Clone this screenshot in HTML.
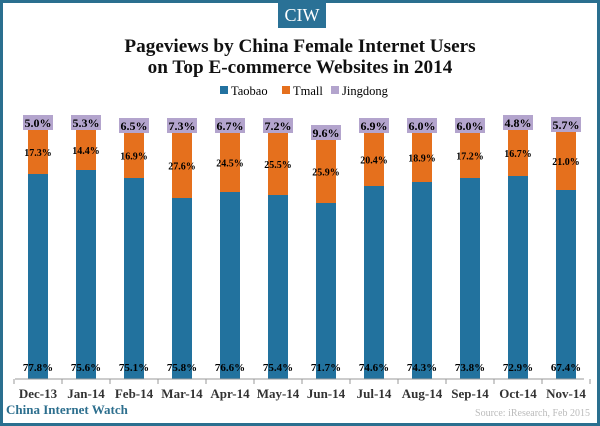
<!DOCTYPE html>
<html><head><meta charset="utf-8"><style>
body{margin:0;width:600px;height:426px;overflow:hidden;background:#fff}
svg{display:block}
</style></head><body>
<svg width="600" height="426" xmlns="http://www.w3.org/2000/svg" font-family="Liberation Serif, serif">
<rect x="1.5" y="1.5" width="597" height="423" fill="#fff" stroke="#2a6f8f" stroke-width="3"/>
<rect x="278" y="0" width="48" height="28" fill="#2a7196"/>
<text x="302" y="21" fill="#fff" font-size="18" text-anchor="middle">CIW</text>
<text x="300" y="52" font-size="19.2" font-weight="bold" text-anchor="middle" fill="#111">Pageviews by China Female Internet Users</text>
<text x="300" y="73" font-size="19.2" font-weight="bold" text-anchor="middle" fill="#111">on Top E-commerce Websites in 2014</text>
<rect x="220" y="86" width="8" height="8" fill="#2372a0"/><text x="231" y="95" font-size="12.5">Taobao</text>
<rect x="282" y="86" width="8" height="8" fill="#e5701d"/><text x="293" y="95" font-size="12.5">Tmall</text>
<rect x="331" y="86" width="8" height="8" fill="#b3a4cd"/><text x="342" y="95" font-size="12.5">Jingdong</text>
<g id="bars" font-size="10" font-weight="bold" text-anchor="middle"></g>
<line x1="15" y1="379" x2="584" y2="379" stroke="#999"/>
<g id="ax" font-size="13" font-weight="bold" text-anchor="middle" fill="#333"></g>
<text x="6" y="414" font-size="13" font-weight="bold" fill="#2d6f8e">China Internet Watch</text>
<text x="590" y="416" font-size="10" fill="#bbb" text-anchor="end">Source: iResearch,  Feb 2015</text>
</svg>
<script>
var L=["Dec-13","Jan-14","Feb-14","Mar-14","Apr-14","May-14","Jun-14","Jul-14","Aug-14","Sep-14","Oct-14","Nov-14"];
var T=["77.8%","75.6%","75.1%","75.8%","76.6%","75.4%","71.7%","74.6%","74.3%","73.8%","72.9%","67.4%"];
var M=["17.3%","14.4%","16.9%","27.6%","24.5%","25.5%","25.9%","20.4%","18.9%","17.2%","16.7%","21.0%"];
var J=["5.0%","5.3%","6.5%","7.3%","6.7%","7.2%","9.6%","6.9%","6.0%","6.0%","4.8%","5.7%"];
var tb=[174,170,178,198,192,195,203,186,182,178,176,190];
var ot=[130,130,133,133,133,133,140,133,133,133,130,132];
var g=document.getElementById("bars"),a=document.getElementById("ax"),s="",t="";
for(var i=0;i<12;i++){var c=38+48*i;
s+='<rect x="'+(c-10)+'" y="'+tb[i]+'" width="20" height="'+(379-tb[i])+'" fill="#22729e"/>';
s+='<rect x="'+(c-10)+'" y="'+ot[i]+'" width="20" height="'+(tb[i]-ot[i])+'" fill="#e5701d"/>';
var by=ot[i]-15;
s+='<rect x="'+(c-15)+'" y="'+by+'" width="30" height="15" fill="#b3a4cd"/>';
s+='<text x="'+c+'" y="'+(by+12)+'" font-size="12">'+J[i]+'</text>';
s+='<text x="'+c+'" y="'+((ot[i]+tb[i])/2+4)+'">'+M[i]+'</text>';
s+='<text x="'+c+'" y="371" font-size="11">'+T[i]+'</text>';
t+='<text x="'+c+'" y="398">'+L[i]+'</text>';
t+='<line x1="'+(c-24)+'" y1="379" x2="'+(c-24)+'" y2="384" stroke="#999"/>';}
t+='<line x1="590" y1="379" x2="590" y2="384" stroke="#999"/>';
g.innerHTML=s;a.innerHTML=t;
</script>
</body></html>
